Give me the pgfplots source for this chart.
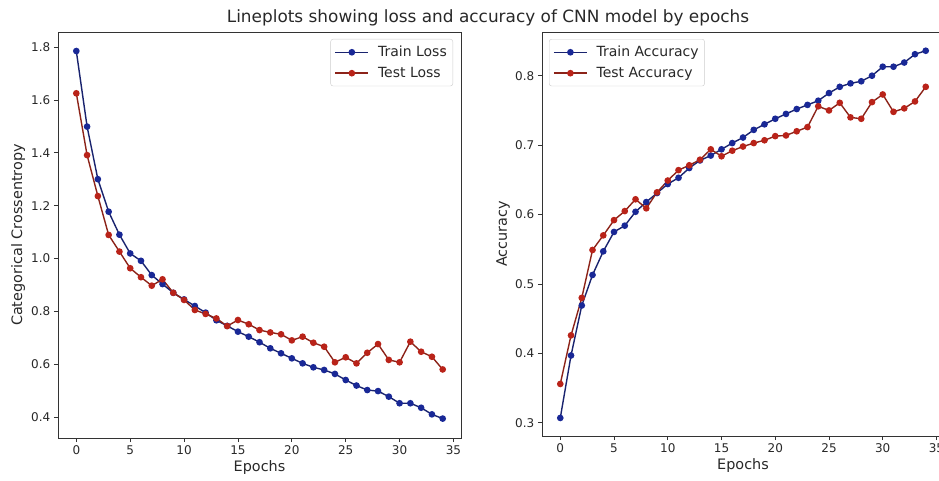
\documentclass[border=0pt]{standalone}
\usepackage{fontspec}
\setmainfont{DejaVu Sans}
\usepackage{pgfplots}
\usepackage{pgfplotstable}
\pgfplotsset{compat=1.18}

\definecolor{trainline}{RGB}{25,35,110}
\definecolor{trainmark}{RGB}{25,40,150}
\definecolor{testline}{RGB}{140,35,25}
\definecolor{testmark}{RGB}{185,35,25}
\definecolor{txt}{RGB}{40,40,40}

% epoch, train/test loss, train/test accuracy
\pgfplotstableread{
ep trloss teloss tracc teacc
0  1.785 1.625 0.307 0.356
1  1.499 1.391 0.397 0.426
2  1.300 1.236 0.469 0.480
3  1.177 1.089 0.513 0.549
4  1.090 1.026 0.547 0.570
5  1.019 0.963 0.575 0.592
6  0.991 0.929 0.584 0.605
7  0.937 0.897 0.604 0.622
8  0.903 0.921 0.618 0.609
9  0.870 0.870 0.631 0.632
10 0.845 0.843 0.644 0.649
11 0.820 0.805 0.653 0.664
12 0.795 0.790 0.667 0.671
13 0.766 0.773 0.678 0.679
14 0.745 0.744 0.685 0.694
15 0.723 0.767 0.694 0.684
16 0.704 0.751 0.703 0.692
17 0.683 0.729 0.711 0.698
18 0.660 0.720 0.722 0.703
19 0.641 0.713 0.730 0.707
20 0.622 0.690 0.738 0.713
21 0.603 0.704 0.745 0.714
22 0.588 0.681 0.752 0.720
23 0.578 0.666 0.758 0.726
24 0.563 0.607 0.764 0.756
25 0.540 0.626 0.775 0.750
26 0.519 0.603 0.784 0.761
27 0.502 0.643 0.789 0.740
28 0.498 0.676 0.792 0.738
29 0.477 0.616 0.800 0.762
30 0.452 0.607 0.813 0.773
31 0.452 0.685 0.813 0.748
32 0.435 0.647 0.819 0.753
33 0.410 0.628 0.831 0.763
34 0.394 0.580 0.836 0.784
}\hist

\pgfplotsset{
  mplstyle/.style={
    scale only axis,
    anchor=south west,
    axis line style={black!80, line width=0.9pt},
    tick align=outside,
    major tick length=4.2pt,
    tick style={black!80, line width=0.8pt},
    xtick pos=bottom, ytick pos=left,
    xmin=-1.7, xmax=35.7,
    xtick={0,5,...,35},
    tick label style={font=\fontsize{12}{14}\selectfont, text=txt},
    label style={font=\fontsize{14.4}{16}\selectfont, text=txt},
    /pgf/number format/assume math mode=true,
    xlabel={Epochs},
    xlabel style={at={(axis description cs:0.5,-0.073)}, anchor=center},
    legend style={font=\fontsize{14}{16}\selectfont, text=txt,
      draw=black!20, rounded corners=2.5pt, inner xsep=4pt, inner ysep=5pt,
      row sep=5pt,
      /tikz/every odd column/.append style={column sep=7pt}},
    legend cell align=left,
    legend image code/.code={
      \draw[mark repeat=2,mark phase=2,#1]
        plot coordinates {(0pt,0pt) (16.5pt,0pt) (33pt,0pt)};},
  },
  train/.style={trainline, line width=1.4pt, mark=*, mark size=2.6pt,
    mark options={fill=trainmark, draw=trainmark}},
  test/.style={testline, line width=1.4pt, mark=*, mark size=2.6pt,
    mark options={fill=testmark, draw=testmark}},
}

\begin{document}
\begin{tikzpicture}
\useasboundingbox (0,0) rectangle (939pt,480pt);

\node[font=\fontsize{16.9}{19}\selectfont, text=txt] at (488pt,462pt)
  {Lineplots showing loss and accuracy of CNN model by epochs};

\begin{axis}[mplstyle,
  at={(58pt,42pt)}, width=403pt, height=406pt,
  ymin=0.3205, ymax=1.857,
  ytick={0.4,0.6,...,1.81},
  yticklabel style={/pgf/number format/.cd, fixed, fixed zerofill, precision=1},
  ylabel={Categorical Crossentropy},
  ylabel style={at={(axis description cs:-0.099,0.5)}, anchor=center},
  legend style={at={(1,1)}, anchor=north east, xshift=-8pt, yshift=-7pt},
]
  \addplot[train] table[x=ep, y=trloss] {\hist};
  \addplot[test] table[x=ep, y=teloss] {\hist};
  \legend{Train Loss, Test Loss}
\end{axis}

\begin{axis}[mplstyle,
  at={(542pt,44pt)}, width=402pt, height=404pt,
  ymin=0.281, ymax=0.863,
  ytick={0.3,0.4,...,0.81},
  yticklabel style={/pgf/number format/.cd, fixed, fixed zerofill, precision=1},
  ylabel={Accuracy},
  ylabel style={at={(axis description cs:-0.097,0.5)}, anchor=center},
  legend style={at={(0,1)}, anchor=north west, xshift=7pt, yshift=-7pt},
]
  \addplot[train] table[x=ep, y=tracc] {\hist};
  \addplot[test] table[x=ep, y=teacc] {\hist};
  \legend{Train Accuracy, Test Accuracy}
\end{axis}
\end{tikzpicture}
\end{document}
